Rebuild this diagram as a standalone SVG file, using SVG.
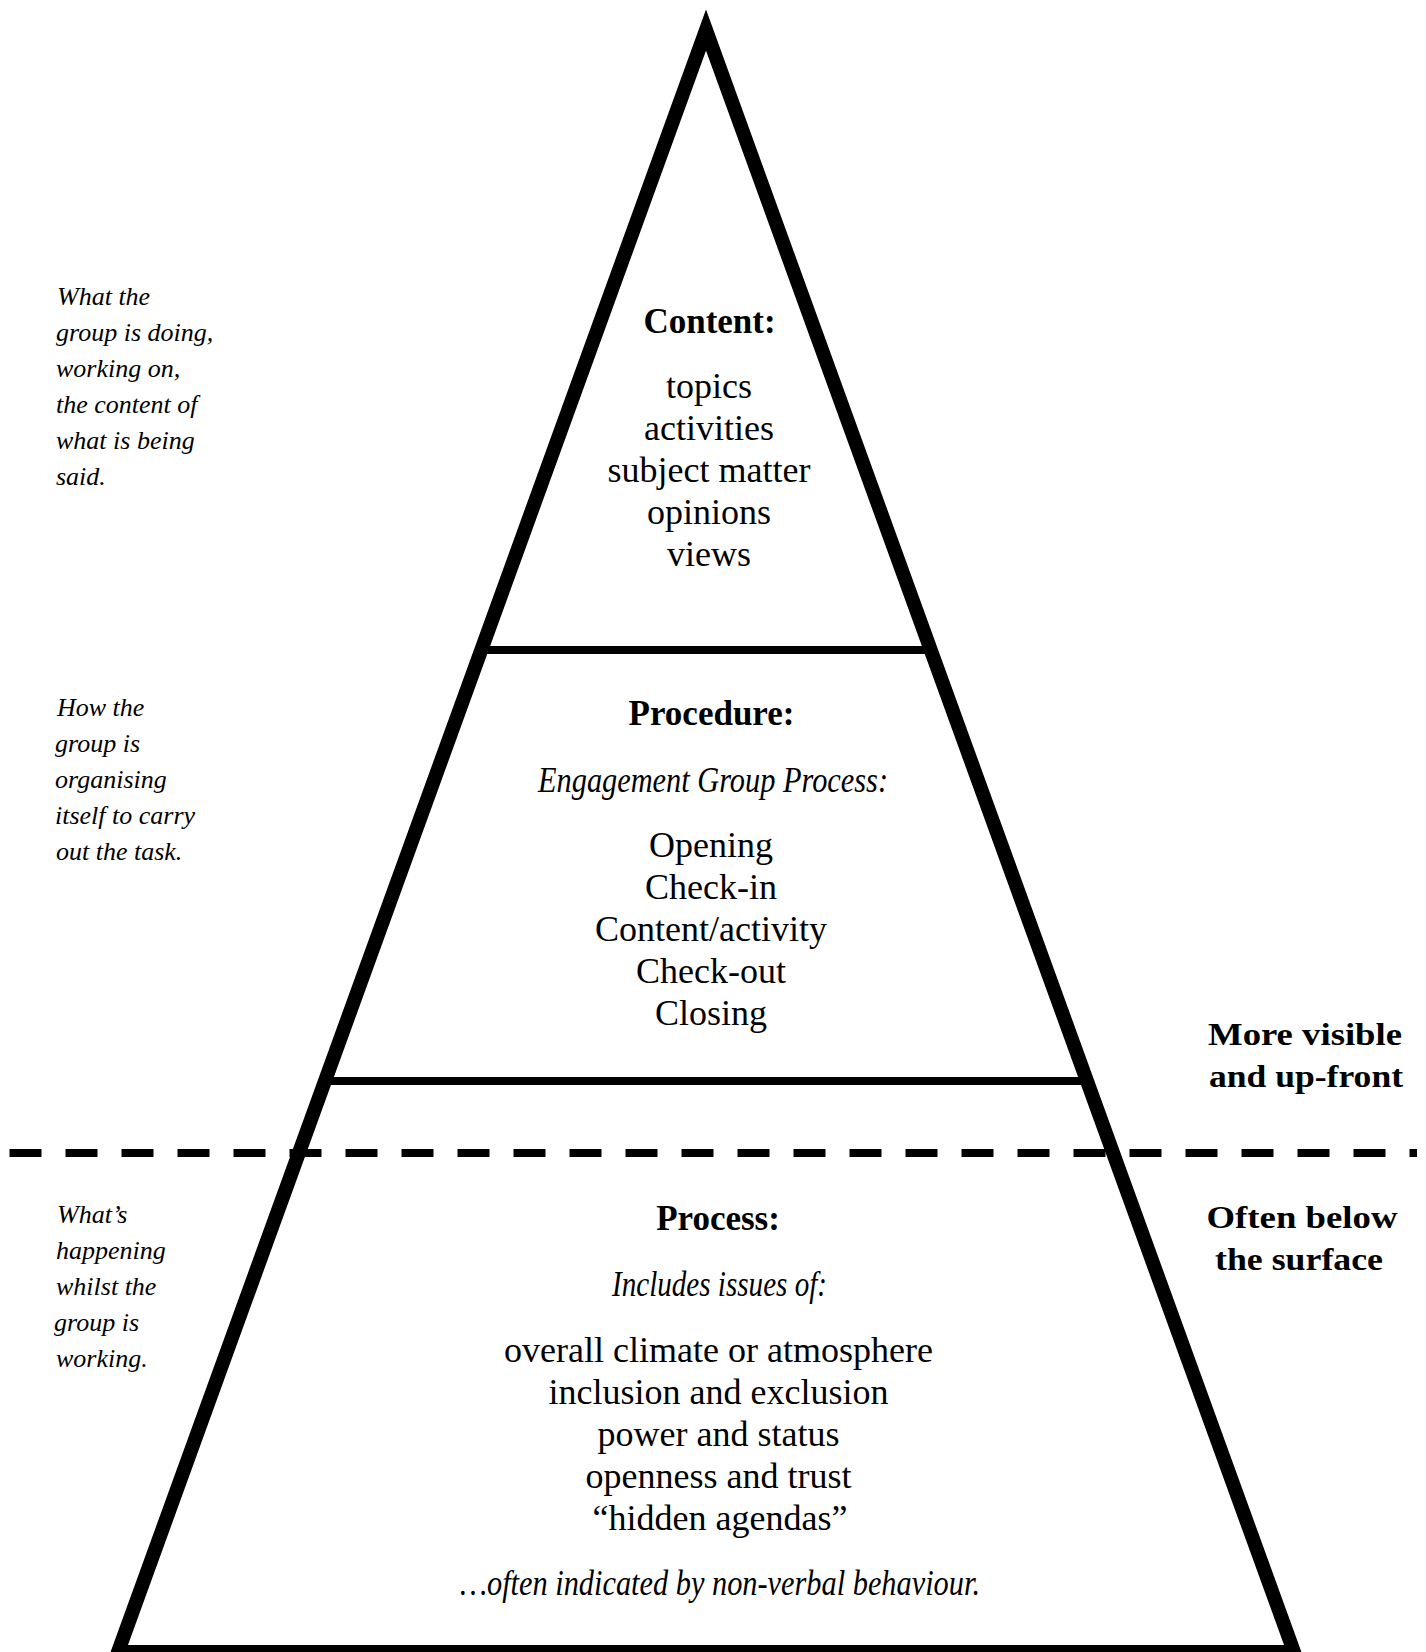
<svg xmlns="http://www.w3.org/2000/svg" width="1426" height="1652" viewBox="0 0 1426 1652">
<style>
text{font-family:"Liberation Serif","Times New Roman",serif;fill:#000}
.h{font-weight:bold;font-size:35px;text-anchor:middle}
.b{font-size:36px;text-anchor:middle}
.i{font-style:italic;font-size:36px;text-anchor:middle}
.n{font-style:italic;font-size:26px}
.r{font-weight:bold;font-size:32px;text-anchor:middle}
.tri{fill:none;stroke:#000;stroke-width:14;stroke-linejoin:miter;stroke-miterlimit:10}
.div{stroke:#000;stroke-width:8}
.dash{stroke:#000;stroke-width:8;stroke-dasharray:32 24}
</style>
<rect width="1426" height="1652" fill="#fff"/>
<g id="pyramid">
<polygon class="tri" points="706,30 1294,1652 118,1652"/>
<line class="div" x1="481" y1="650" x2="930" y2="650"/>
<line class="div" x1="325" y1="1081" x2="1087" y2="1081"/>
</g>
<g id="connectors">
<line id="surface-line" class="dash" x1="9.5" y1="1153" x2="1417" y2="1153"/>
</g>
<g id="content">
<text class="h" x="709.5" y="333">Content:</text>
<text class="b" x="709" y="398">topics</text>
<text class="b" x="709" y="440">activities</text>
<text class="b" x="709" y="482">subject matter</text>
<text class="b" x="709" y="524">opinions</text>
<text class="b" x="709" y="566">views</text>
</g>
<g id="procedure">
<text class="h" x="711.5" y="725">Procedure:</text>
<text class="i" x="713" y="792" textLength="350" lengthAdjust="spacingAndGlyphs">Engagement Group Process:</text>
<text class="b" x="711" y="857">Opening</text>
<text class="b" x="711" y="899">Check-in</text>
<text class="b" x="711" y="941">Content/activity</text>
<text class="b" x="711" y="983">Check-out</text>
<text class="b" x="711" y="1025">Closing</text>
</g>
<g id="process">
<text class="h" x="718" y="1230">Process:</text>
<text class="i" x="719.5" y="1296" textLength="215" lengthAdjust="spacingAndGlyphs">Includes issues of:</text>
<text class="b" x="718.5" y="1362">overall climate or atmosphere</text>
<text class="b" x="718.5" y="1404">inclusion and exclusion</text>
<text class="b" x="718.5" y="1446">power and status</text>
<text class="b" x="718.5" y="1488">openness and trust</text>
<text class="b" x="720" y="1530">“hidden agendas”</text>
<text class="i" x="720" y="1595" textLength="520" lengthAdjust="spacingAndGlyphs">…often indicated by non-verbal behaviour.</text>
</g>
<g id="note-content">
<text class="n" x="57" y="305">What the</text>
<text class="n" x="56" y="341">group is doing,</text>
<text class="n" x="56" y="377">working on,</text>
<text class="n" x="56" y="413">the content of</text>
<text class="n" x="56" y="449">what is being</text>
<text class="n" x="56" y="485">said.</text>
</g>
<g id="note-procedure">
<text class="n" x="57" y="716">How the</text>
<text class="n" x="55" y="752">group is</text>
<text class="n" x="55" y="788">organising</text>
<text class="n" x="55" y="824">itself to carry</text>
<text class="n" x="56" y="860">out the task.</text>
</g>
<g id="note-process">
<text class="n" x="57" y="1223">What’s</text>
<text class="n" x="56" y="1259">happening</text>
<text class="n" x="56" y="1295">whilst the</text>
<text class="n" x="54" y="1331">group is</text>
<text class="n" x="56" y="1367">working.</text>
</g>
<g id="label-visible">
<text class="r" x="1305" y="1045" textLength="194" lengthAdjust="spacingAndGlyphs">More visible</text>
<text class="r" x="1306" y="1087" textLength="194" lengthAdjust="spacingAndGlyphs">and up-front</text>
</g>
<g id="label-below">
<text class="r" x="1302" y="1228" textLength="191" lengthAdjust="spacingAndGlyphs">Often below</text>
<text class="r" x="1299" y="1270" textLength="168" lengthAdjust="spacingAndGlyphs">the surface</text>
</g>
</svg>
